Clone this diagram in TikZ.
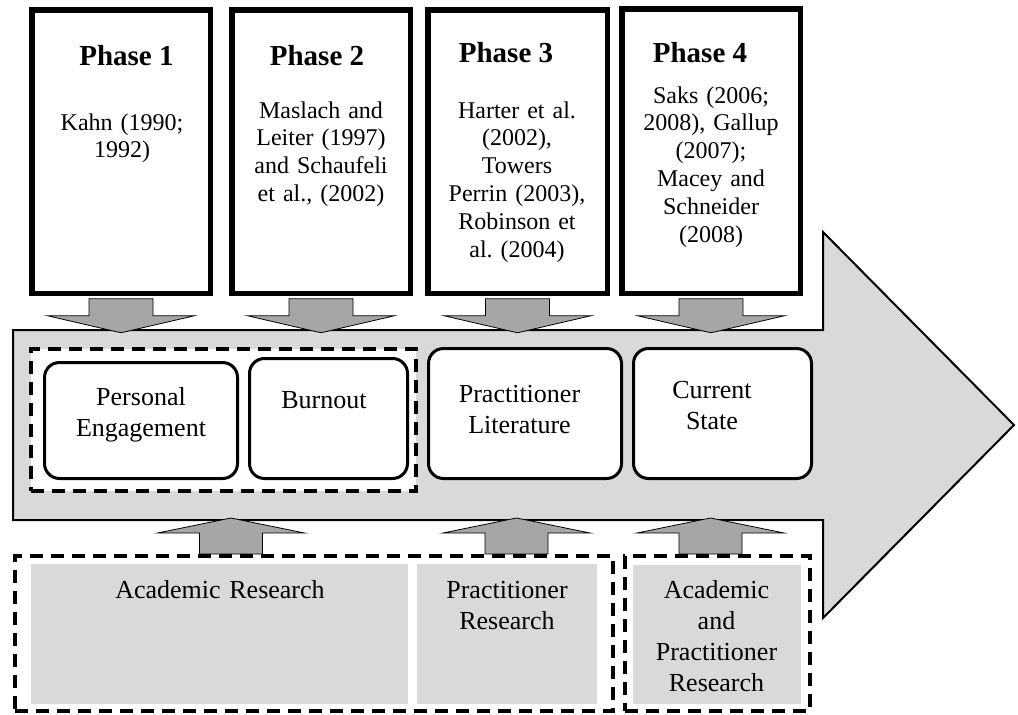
\documentclass[tikz,border=0pt]{standalone}
\usepackage{fontspec}
\setmainfont{Liberation Serif}
\usetikzlibrary{calc}
\definecolor{bodygray}{HTML}{D9D9D9}
\definecolor{feedgray}{HTML}{A6A6A6}
\tikzset{
  phasebox/.style={draw, line width=5.5pt, fill=white, inner sep=0pt},
  feed/.style={draw=black, line width=0.8pt, fill=feedgray, line join=miter},
  stagebox/.style={draw, line width=3pt, fill=white, rounded corners=15pt, inner sep=0pt},
  groupbox/.style={draw, line width=4pt, dash pattern=on 13pt off 8pt, inner sep=0pt},
  sourcebox/.style={fill=bodygray, inner sep=0pt},
  headtxt/.style={font=\fontsize{29}{33}\selectfont\bfseries, inner sep=0pt, anchor=base},
  reftxt/.style={font=\fontsize{24}{27.8}\selectfont, inner sep=0pt, anchor=base, text width=260pt, align=center},
  labeltxt/.style={font=\fontsize{26}{31}\selectfont, inner sep=0pt, anchor=base, text width=260pt, align=center},
}
\begin{document}
\begin{tikzpicture}[x=1pt, y=-1pt]
\useasboundingbox (0,0) rectangle (1018,715);

% main progression arrow
\draw[line width=2pt, fill=bodygray, miter limit=4]
  (13,330) -- (823,330) -- (823,232) -- (1014,425) -- (823,618) -- (823,520) -- (13,520) -- cycle;

% phase panels
\node[phasebox, minimum width=178.5pt, minimum height=283.5pt] (p1) at (121,151.5) {};
\node[phasebox, minimum width=178.5pt, minimum height=283.5pt] (p2) at (321,151.5) {};
\node[phasebox, minimum width=179.5pt, minimum height=283.5pt] (p3) at (517.5,151.5) {};
\node[phasebox, minimum width=178.5pt, minimum height=284.5pt] (p4) at (711,151) {};

\node[headtxt] (h1) at (126.5,65) {Phase 1};
\node[headtxt] (h2) at (317,65) {Phase 2};
\node[headtxt] (h3) at (506,62) {Phase 3};
\node[headtxt] (h4) at (700,62) {Phase 4};

\node[reftxt] (r1) at (122,130) {Kahn (1990;\\1992)};
\node[reftxt] (r2) at (321,118) {Maslach and\\Leiter (1997)\\and Schaufeli\\et al., (2002)};
\node[reftxt] (r3) at (517,118) {Harter et al.\\(2002),\\Towers\\Perrin (2003),\\Robinson et\\al.\ (2004)};
\node[reftxt] (r4) at (711,103) {Saks (2006;\\2008), Gallup\\(2007);\\Macey and\\Schneider\\(2008)};

% arrows from each phase into the main arrow
\foreach \p in {p1,p2,p3,p4}{
  \draw[feed] ([yshift=-2.75pt]\p.south) ++(-32,0) -- ++(0,17) -- ++(-41.5,0)
    -- ++(73.5,17) -- ++(73.5,-17) -- ++(-41.5,0) -- ++(0,-17) -- cycle;
}

% stages inside the main arrow
\node[groupbox, fill=white, minimum width=385pt, minimum height=142pt] (g0) at (223.5,420) {};
\node[stagebox, minimum width=193pt, minimum height=116pt] (s1) at (141,420.5) {};
\node[stagebox, minimum width=158pt, minimum height=120pt] (s2) at (328.5,418.5) {};
\node[stagebox, minimum width=193pt, minimum height=130pt] (s3) at (525,413.5) {};
\node[stagebox, minimum width=178pt, minimum height=130pt] (s4) at (722.5,413.5) {};

\node[labeltxt] (t1) at (141,405) {Personal\\Engagement};
\node[labeltxt] (t2) at (324,408) {Burnout};
\node[labeltxt] (t3) at (519.5,402) {Practitioner\\Literature};
\node[labeltxt] (t4) at (712,398) {Current\\State};

% research sources
\node[sourcebox, minimum width=377pt, minimum height=140pt] (b1) at (219.5,634) {};
\node[sourcebox, minimum width=180pt, minimum height=140pt] (b2) at (507,634) {};
\node[sourcebox, minimum width=168pt, minimum height=139pt] (b3) at (717,634.5) {};

\node[labeltxt] (a1) at (220,598) {Academic Research};
\node[labeltxt] (a2) at (507,598) {Practitioner\\Research};
\node[labeltxt] (a3) at (716.5,598) {Academic\\and\\Practitioner\\Research};

% arrows from the sources up into the main arrow
\coordinate (u1) at (231,554);
\coordinate (u2) at (516.5,554);
\coordinate (u3) at (710.5,554);
\foreach \u in {u1,u2,u3}{
  \draw[feed] (\u) ++(-31.5,0) -- ++(0,-21) -- ++(-42,0)
    -- ++(73.5,-15) -- ++(73.5,15) -- ++(-42,0) -- ++(0,21) -- cycle;
}

\node[groupbox, minimum width=598pt, minimum height=155pt] (g1) at (314,633.5) {};
\node[groupbox, minimum width=185pt, minimum height=155pt] (g2) at (717.5,633.5) {};
\end{tikzpicture}
\end{document}
